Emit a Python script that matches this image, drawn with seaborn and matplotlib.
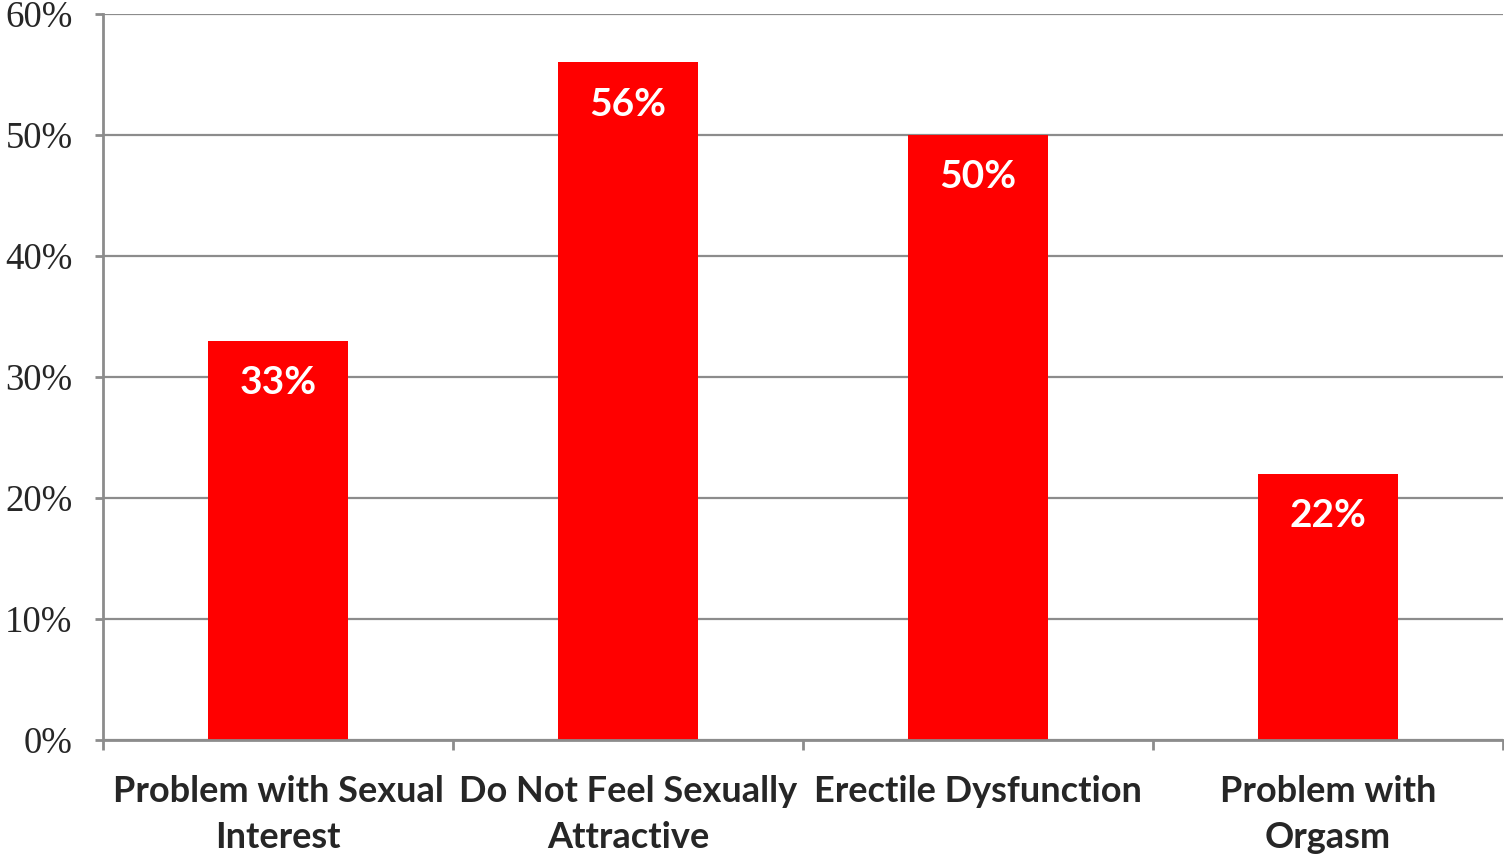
import matplotlib
matplotlib.use("Agg")
import matplotlib.pyplot as plt
import seaborn as sns
import pandas as pd
import numpy as np
from matplotlib.ticker import FixedLocator, PercentFormatter

categories = ["Problem with Sexual\nInterest", "Do Not Feel Sexually\nAttractive",
              "Erectile Dysfunction", "Problem with\nOrgasm"]
values = [33, 56, 50, 22]
labels = ["33%", "56%", "50%", "22%"]
yticks = [0, 10, 20, 30, 40, 50, 60]

sns.set_theme(style="white")
plt.rcParams['font.family'] = ['DejaVu Sans']

df = pd.DataFrame({"cat": categories, "val": values})

fig = plt.figure(figsize=(15.04, 8.55), dpi=100)
ax = fig.add_axes([103/1504, (855-740)/855, 1400/1504, 726/855])

sns.barplot(data=df, x="cat", y="val", color="#FF0000", saturation=1, width=0.4,
            linewidth=0, ax=ax)

ax.set_ylim(0, 60)
ax.set_xlim(-0.5, len(categories) - 0.5)
ax.set_yticks(yticks)
ax.yaxis.set_major_formatter(PercentFormatter(decimals=0))
ax.set_axisbelow(True)
ax.yaxis.grid(True, color="#8c8c8c", linewidth=1.6)
ax.xaxis.grid(False)

for s in ["top", "right"]:
    ax.spines[s].set_visible(False)
for s in ["left", "bottom"]:
    ax.spines[s].set_color("#8c8c8c")
    ax.spines[s].set_linewidth(2)

ax.set_xlabel("")
ax.set_ylabel("")

# x: labels at centers (no tick), tick marks at boundaries
ax.tick_params(axis="x", which="major", length=0, pad=25)
ax.xaxis.set_minor_locator(FixedLocator(np.arange(-0.5, len(categories), 1.0)))
ax.tick_params(axis="x", which="minor", length=7, width=2, color="#8c8c8c", bottom=True, direction="out")
ax.tick_params(axis="y", which="major", length=6, width=2, color="#8c8c8c", left=True, pad=16, direction="out")

for t in ax.get_xticklabels():
    t.set_fontfamily("Lato")
    t.set_fontweight("bold")
    t.set_fontsize(26)
    t.set_linespacing(1.5)
for t in ax.get_yticklabels():
    t.set_fontfamily("Liberation Serif")
    t.set_fontsize(26.5)

for i, (v, lab) in enumerate(zip(values, labels)):
    ax.annotate(lab, xy=(i, v), xytext=(0, -42), textcoords="offset pixels",
                ha="center", va="center", color="white", fontsize=28,
                fontweight="bold", fontfamily="Lato")

fig.savefig("out.png", dpi=100)
